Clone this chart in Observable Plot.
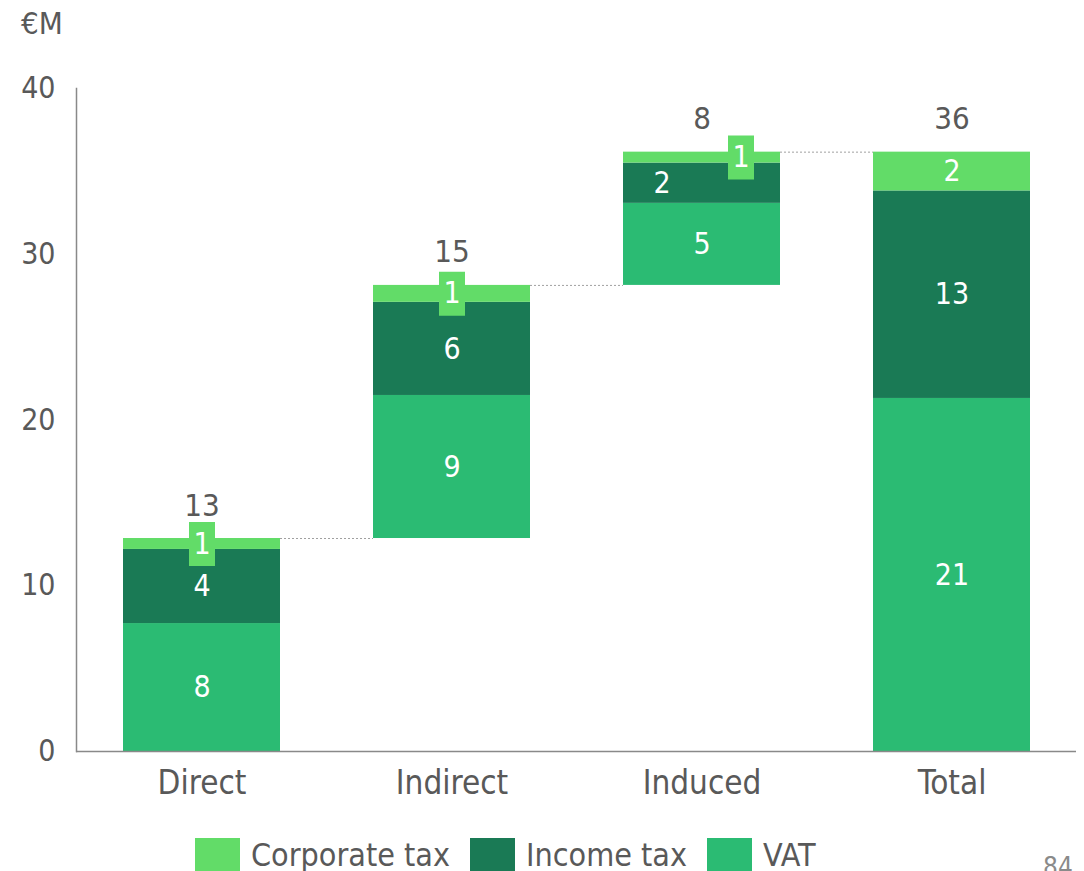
<!DOCTYPE html>
<html><head><meta charset="utf-8">
<script src="https://cdn.jsdelivr.net/npm/d3@7"></script>
<script src="https://cdn.jsdelivr.net/npm/@observablehq/plot@0.6"></script>
<style>
body{margin:0;background:#fff;font-family:"DejaVu Sans Condensed","DejaVu Sans",sans-serif;color:#595959;}
#wrap{position:relative;width:1084px;height:871px;overflow:hidden;}
#unit{position:absolute;left:21px;top:5px;font-size:31px;}
#chart{position:absolute;left:0;top:0;}
#legend{position:absolute;left:195px;top:837px;display:flex;align-items:flex-start;font-size:32px;line-height:36px;}
.item{display:flex;align-items:flex-start;margin-right:20px}
.sw{width:45px;height:42px;margin-right:11px;margin-top:1px}
#page{position:absolute;left:1043px;top:852px;font-size:26px;color:#8a8a8a}
</style></head>
<body><div id="wrap">
<div id="chart"></div>
<div id="unit">€M</div>
<div id="legend"></div>
<div id="page">84</div>
</div>
<script>
const categories = ["Direct", "Indirect", "Induced", "Total"];
const seriesNames = ["Corporate tax", "Income tax", "VAT"];
const seriesColors = ["#62DC68", "#1A7A55", "#2BBB73"];
const vat = [7.72, 8.63, 4.95, 21.30];
const income = [4.47, 5.62, 2.43, 12.52];
const corporate = [0.66, 1.02, 0.66, 2.34];
const vatLabels = ["8", "9", "5", "21"];
const incomeLabels = ["4", "6", "2", "13"];
const corporateLabels = ["1", "1", "1", "2"];
const totalLabels = ["13", "15", "8", "36"];
const yTicks = [0, 10, 20, 30, 40];

const BAR_W = 157; // band width in px (style)
const TEXT = "#595959";

// build waterfall table
const rows = [];
const tops = [];
let running = 0;
categories.forEach((cat, i) => {
  const isTotal = cat === "Total";
  const base = isTotal ? 0 : running;
  const a = base + vat[i], b = a + income[i], c = b + corporate[i];
  rows.push({cat, series: "VAT", y1: base, y2: a, label: vatLabels[i]});
  rows.push({cat, series: "Income tax", y1: a, y2: b, label: incomeLabels[i]});
  rows.push({cat, series: "Corporate tax", y1: b, y2: c, label: corporateLabels[i]});
  tops.push({cat, top: c, label: totalLabels[i]});
  if (!isTotal) running = c;
});
rows.forEach(r => r.mid = (r.y1 + r.y2) / 2);
const connectors = tops.slice(0, -1).map((t, i) => ({from: t.cat, to: categories[i + 1], level: t.top}));

const inner = rows.filter(r => r.series !== "Corporate tax" || r.cat === "Total");
const innerCentered = inner.filter(r => !(r.cat === "Induced" && r.series === "Income tax"));
const innerLeft = inner.filter(r => r.cat === "Induced" && r.series === "Income tax");
const boxed = rows.filter(r => r.series === "Corporate tax" && r.cat !== "Total");
const boxedCentered = boxed.filter(r => r.cat !== "Induced");
const boxedRight = boxed.filter(r => r.cat === "Induced");

const boxSymbol = {draw(ctx) { ctx.rect(-13, -22, 26, 44); }};

const chart = Plot.plot({
  width: 1084,
  height: 830,
  marginLeft: 76,
  marginRight: 8,
  marginTop: 88,
  marginBottom: 79,
  style: {fontFamily: "'DejaVu Sans Condensed','DejaVu Sans',sans-serif", fontSize: "30px", color: TEXT, background: "white"},
  x: {domain: categories, paddingInner: 0.372, paddingOuter: 0.186, tickSize: 0, tickPadding: 19, label: null},
  y: {domain: [0, 40], ticks: yTicks, tickSize: 0, tickPadding: 21, label: null},
  color: {domain: seriesNames, range: seriesColors},
  marks: [
    Plot.barY(rows, {x: "cat", y1: "y1", y2: "y2", fill: "series"}),
    Plot.ruleY(connectors, {y: "level", x1: "from", x2: "to", insetLeft: BAR_W, insetRight: BAR_W, stroke: "#a0a0a0", strokeWidth: 1, strokeDasharray: "2,2"}),
    Plot.ruleY([0], {stroke: "#898989", strokeWidth: 1.5}),
    Plot.frame({anchor: "left", stroke: "#898989", strokeWidth: 1.5}),
    Plot.axisX({tickSize: 0, tickPadding: 19, fontSize: 33}),
    Plot.text(innerCentered, {x: "cat", y: "mid", text: "label", fill: "white"}),
    Plot.text(innerLeft, {x: "cat", y: "mid", text: "label", fill: "white", dx: -40}),
    Plot.dot(boxedCentered, {x: "cat", y: "mid", symbol: boxSymbol, fill: seriesColors[0], stroke: "none"}),
    Plot.dot(boxedRight, {x: "cat", y: "mid", symbol: boxSymbol, fill: seriesColors[0], stroke: "none", dx: 39}),
    Plot.text(boxedCentered, {x: "cat", y: "mid", text: "label", fill: "white"}),
    Plot.text(boxedRight, {x: "cat", y: "mid", text: "label", fill: "white", dx: 39}),
    Plot.text(tops, {x: "cat", y: "top", text: "label", fill: TEXT, lineAnchor: "bottom", dy: -23, fontSize: 31})
  ]
});
document.getElementById("chart").appendChild(chart);

const legend = document.getElementById("legend");
seriesNames.forEach((name, i) => {
  const item = document.createElement("div");
  item.className = "item";
  const sw = document.createElement("div");
  sw.className = "sw";
  sw.style.background = seriesColors[i];
  const label = document.createElement("span");
  label.textContent = name;
  item.appendChild(sw);
  item.appendChild(label);
  legend.appendChild(item);
});
</script>
</body></html>
